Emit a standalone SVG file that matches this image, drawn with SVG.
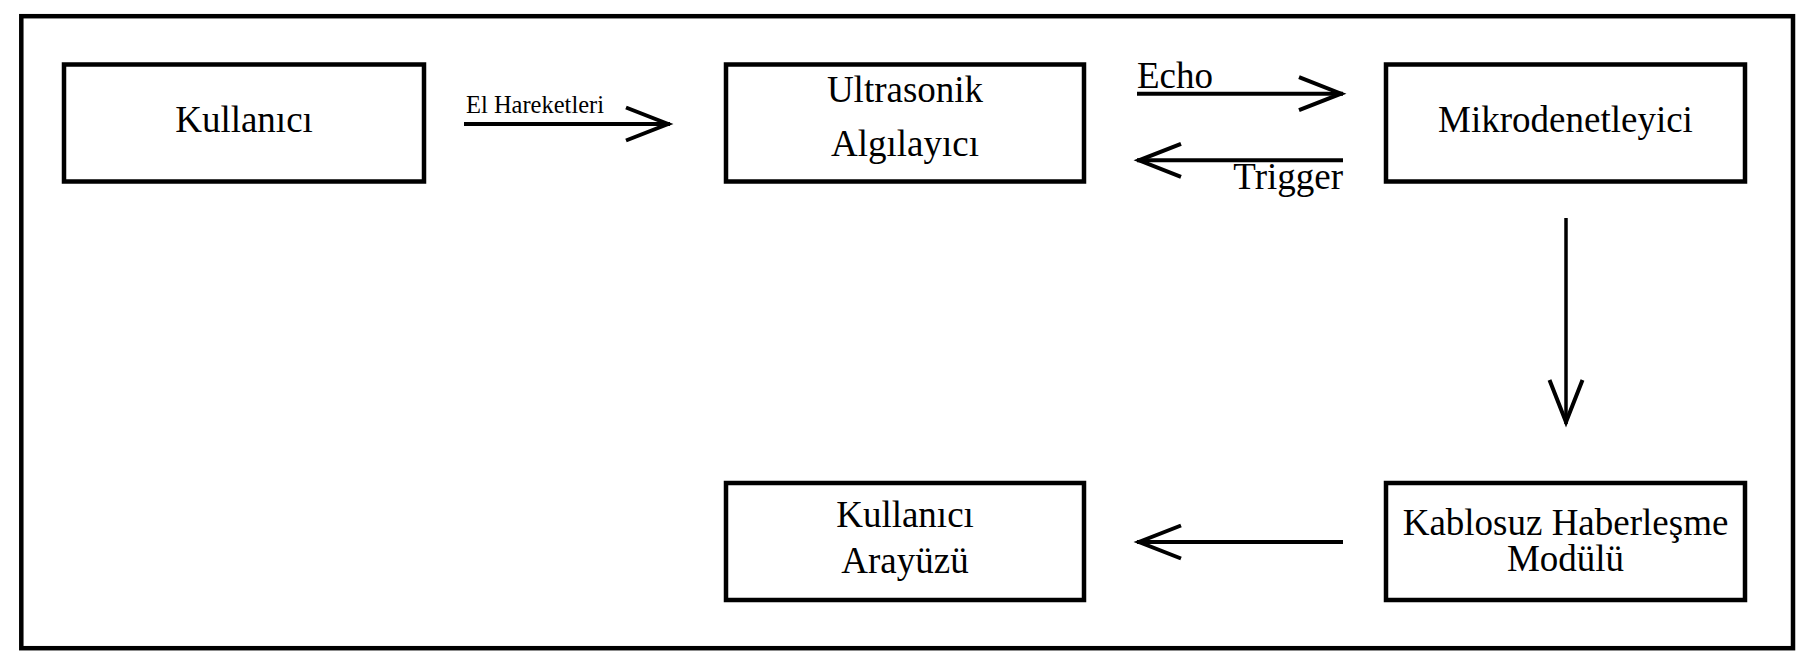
<svg xmlns="http://www.w3.org/2000/svg" width="1809" height="669" viewBox="0 0 1809 669">
  <style>
    .box { fill: #ffffff; stroke: #000000; stroke-width: 4.5; }
    .lbl { font-family: "Liberation Serif", "Times New Roman", serif; font-size: 37px; fill: #000000; text-anchor: middle; }
    .elbl { font-family: "Liberation Serif", "Times New Roman", serif; font-size: 37px; fill: #000000; }
    .small { font-family: "Liberation Serif", "Times New Roman", serif; font-size: 24.5px; fill: #000000; }
    .conn { fill: none; stroke: #000000; stroke-width: 4; marker-end: url(#head); }
    .thin { stroke-width: 3.5; }
  </style>
  <defs>
    <marker id="head" viewBox="-48 -20 52 40" refX="0" refY="0" markerWidth="52" markerHeight="40" markerUnits="userSpaceOnUse" orient="auto">
      <path d="M-44,-16.5 L-2,0 L-44,16.5" fill="none" stroke="#000000" stroke-width="4"/>
    </marker>
  </defs>
  <rect x="0" y="0" width="1809" height="669" fill="#ffffff"/>
  <rect id="frame" x="21.3" y="16.2" width="1771.7" height="632" fill="none" stroke="#000000" stroke-width="4.5"/>

  <g id="kullanici">
    <rect class="box" x="64" y="64.5" width="360" height="117"/>
    <text class="lbl" x="244" y="132">Kullanıcı</text>
  </g>
  <g id="ultrasonik">
    <rect class="box" x="726" y="64.5" width="358" height="117"/>
    <text class="lbl" x="905" y="102">Ultrasonik</text>
    <text class="lbl" x="905" y="156">Algılayıcı</text>
  </g>
  <g id="mikrodenetleyici">
    <rect class="box" x="1386" y="64.5" width="359" height="117"/>
    <text class="lbl" x="1565.5" y="132">Mikrodenetleyici</text>
  </g>
  <g id="arayuz">
    <rect class="box" x="726" y="483" width="358" height="117"/>
    <text class="lbl" x="905" y="527">Kullanıcı</text>
    <text class="lbl" x="905" y="573">Arayüzü</text>
  </g>
  <g id="kablosuz">
    <rect class="box" x="1386" y="483" width="359" height="117"/>
    <text class="lbl" x="1565.5" y="535">Kablosuz Haberleşme</text>
    <text class="lbl" x="1565.5" y="571">Modülü</text>
  </g>

  <g id="connectors">
    <line class="conn" x1="464" y1="124" x2="670" y2="124"/>
    <text class="small" x="466" y="113">El Hareketleri</text>
    <line class="conn" x1="1137" y1="93.7" x2="1343" y2="93.7"/>
    <text class="elbl" x="1137" y="88">Echo</text>
    <line class="conn" x1="1343" y1="160.3" x2="1137" y2="160.3"/>
    <text class="elbl" x="1343" y="189" text-anchor="end">Trigger</text>
    <line class="conn thin" x1="1566" y1="218" x2="1566" y2="424"/>
    <line class="conn" x1="1343" y1="542" x2="1137" y2="542"/>
  </g>
</svg>
